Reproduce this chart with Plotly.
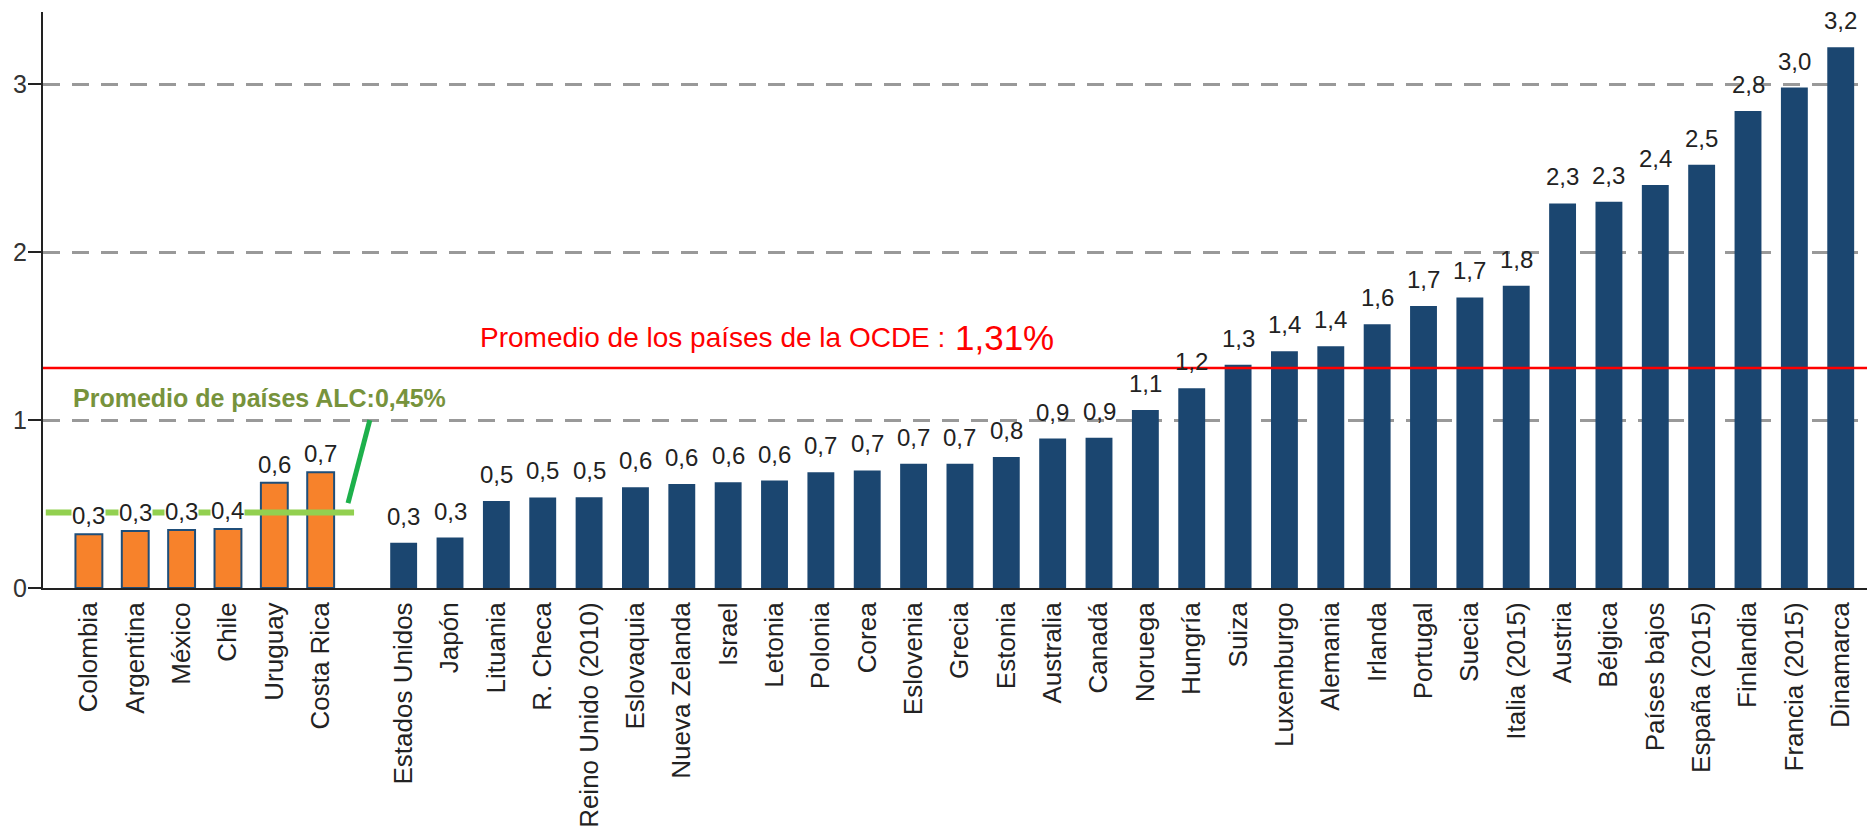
import plotly.graph_objects as go

# ---------------- data ----------------
alc_countries = ["Colombia", "Argentina", "México", "Chile", "Uruguay", "Costa Rica"]
alc_values = [0.32, 0.34, 0.345, 0.352, 0.627, 0.69]

oecd_countries = ["Estados Unidos", "Japón", "Lituania", "R. Checa", "Reino Unido (2010)",
                  "Eslovaquia", "Nueva Zelanda", "Israel", "Letonia", "Polonia", "Corea",
                  "Eslovenia", "Grecia", "Estonia", "Australia", "Canadá", "Noruega",
                  "Hungría", "Suiza", "Luxemburgo", "Alemania", "Irlanda", "Portugal",
                  "Suecia", "Italia (2015)", "Austria", "Bélgica", "Países bajos",
                  "España (2015)", "Finlandia", "Francia (2015)", "Dinamarca"]
oecd_values = [0.27, 0.30, 0.518, 0.539, 0.54, 0.60, 0.62, 0.63, 0.64, 0.69, 0.70,
               0.74, 0.74, 0.78, 0.89, 0.895, 1.06, 1.19, 1.33, 1.41, 1.44, 1.57, 1.68,
               1.73, 1.80, 2.29, 2.30, 2.40, 2.52, 2.84, 2.98, 3.22]

alc_avg = 0.45
oecd_avg = 1.31
alc_avg_label = "Promedio de países ALC:0,45%"
oecd_avg_label = "Promedio de los países de la OCDE :"
oecd_avg_value_label = "1,31%"
y_ticks = [0, 1, 2, 3]

# ---------------- layout helpers ----------------
GROUP_GAP = 1.79  # distance (in slots) between last ALC bar and first OECD bar
alc_x = list(range(len(alc_countries)))
oecd_x = [len(alc_countries) - 1 + GROUP_GAP + j for j in range(len(oecd_countries))]

FONT = "Liberation Sans, Arial, sans-serif"

def fmt(v):
    return f"{v:.1f}".replace(".", ",")

fig = go.Figure()
fig.add_trace(go.Bar(x=alc_x, y=alc_values, width=0.58,
                     marker=dict(color="#F7822B", line=dict(color="#1F4E79", width=2)),
                     hoverinfo="skip"))
fig.add_trace(go.Bar(x=oecd_x, y=oecd_values, width=0.58,
                     marker=dict(color="#1B4670", line=dict(width=0)),
                     hoverinfo="skip"))

# OECD average line (red)
fig.add_shape(type="line", xref="paper", x0=0, x1=1, yref="y", y0=oecd_avg, y1=oecd_avg,
              line=dict(color="#FF0000", width=2.5), layer="above")
# ALC average line (green)
fig.add_shape(type="line", xref="x", x0=-0.93, x1=5.72, yref="y", y0=alc_avg, y1=alc_avg,
              line=dict(color="#92D050", width=6), layer="above")
fig.add_shape(type="line", xref="x", x0=5.59, x1=6.06, yref="y", y0=alc_avg + 0.056, y1=1.0,
              line=dict(color="#1DB04B", width=5), layer="above")

annotations = []
for x, v in zip(alc_x, alc_values):
    annotations.append(dict(x=x, y=v, text=fmt(v), showarrow=False, yanchor="bottom",
                            yshift=4, bgcolor="white", borderpad=0,
                            font=dict(family=FONT, size=24, color="#222")))
for x, v in zip(oecd_x, oecd_values):
    annotations.append(dict(x=x, y=v, text=fmt(v), showarrow=False, yanchor="bottom",
                            yshift=12, borderpad=0,
                            font=dict(family=FONT, size=24, color="#222")))
annotations.append(dict(x=-0.39, y=1.13, xanchor="left", yanchor="middle", showarrow=False,
                        text="<b>" + alc_avg_label + "</b>",
                        font=dict(family=FONT, size=25, color="#77933C")))
annotations.append(dict(x=8.39, y=1.49, xanchor="left", yanchor="middle", showarrow=False,
                        text=oecd_avg_label,
                        font=dict(family=FONT, size=28, color="#FF0000")))
annotations.append(dict(x=18.64, y=1.49, xanchor="left", yanchor="middle", showarrow=False,
                        text=oecd_avg_value_label,
                        font=dict(family=FONT, size=35, color="#FF0000")))

# the page body adds an 8px margin, so the figure is sized/margined to compensate
fig.update_layout(
    width=1867, height=827, autosize=False,
    margin=dict(l=35, r=6, t=4, b=247),
    plot_bgcolor="white", paper_bgcolor="white",
    showlegend=False, barmode="overlay",
    annotations=annotations,
    xaxis=dict(type="linear", range=[-0.99, 38.40], automargin=False,
               tickvals=alc_x + oecd_x, ticktext=alc_countries + oecd_countries,
               tickangle=-90, showgrid=False, zeroline=False,
               showline=True, linecolor="#222", linewidth=2,
               ticks="", ticklabelstandoff=2,
               tickfont=dict(family=FONT, size=26, color="#222")),
    yaxis=dict(range=[0, 3.43], tickvals=y_ticks, ticktext=[str(t) for t in y_ticks],
               automargin=False,
               showgrid=True, gridcolor="#999999", gridwidth=3, griddash="17px,12px",
               zeroline=False, showline=True, linecolor="#222", linewidth=2,
               ticks="outside", ticklen=13, tickwidth=2, tickcolor="#222",
               ticklabelstandoff=-4,
               tickfont=dict(family=FONT, size=25, color="#333")),
)

fig.write_html("out.html")
